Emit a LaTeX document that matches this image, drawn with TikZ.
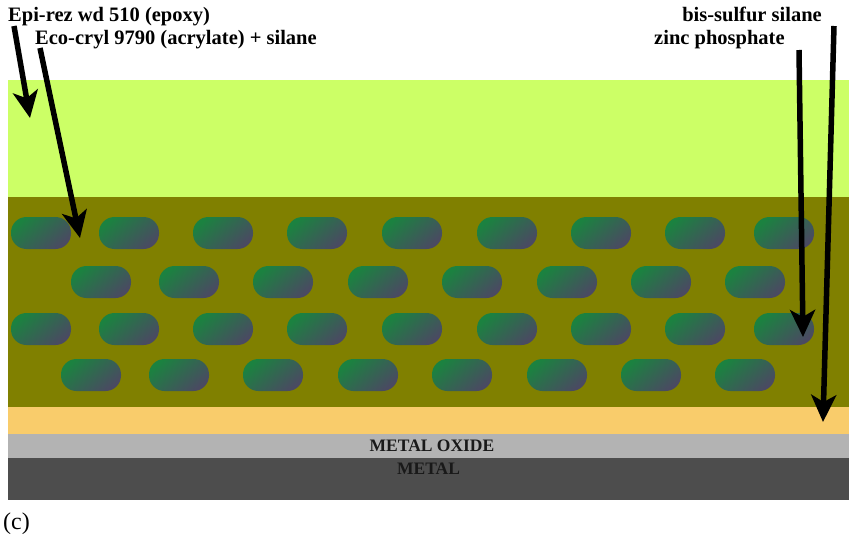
\documentclass[tikz,border=0pt]{standalone}
\usepackage{fontspec}
\setmainfont{Liberation Serif}
\usetikzlibrary{arrows.meta}
\definecolor{topcoat}{HTML}{CCFF66}
\definecolor{primer}{HTML}{808000}
\definecolor{conversion}{HTML}{F9CC6B}
\definecolor{oxide}{HTML}{B3B3B3}
\definecolor{metal}{HTML}{4D4D4D}
\definecolor{pillgreen}{HTML}{1B8240}
\definecolor{pillgray}{HTML}{4A4A62}
\tikzset {
layer/.style={draw=none},
pill/.style={top color=pillgreen,bottom color=pillgray,shading angle=40,rounded corners=15.5pt},
tag/.style={font=\fontsize{20.5}{22}\selectfont\bfseries,inner sep=0pt},
layertext/.style={font=\fontsize{17.5}{19}\selectfont\bfseries,text=black!90,inner sep=0pt},
pointer/.style={line width=5.5pt,-{Stealth[length=27pt,width=25pt,inset=7pt]}}
}

\begin{document}
\begin{tikzpicture}
[x=1pt,y=-1pt]
\useasboundingbox (0,0) rectangle (855,538);
% coating stack
\fill[layer,topcoat] (8,80) rectangle (849,197);
\fill[layer,primer] (8,197) rectangle (849,407);
\fill[layer,conversion] (8,407) rectangle (849,434);
\fill[layer,oxide] (8,434) rectangle (849,458);
\fill[layer,metal] (8,458) rectangle (849,500);

% pigment particles
\foreach \x in {11,99,193,287,382,477,571,665,754} {
  \shade[pill] (\x,217) rectangle ++(60,32);
  \shade[pill] (\x,313) rectangle ++(60,32);
}
\foreach \x in {71,159,253,348,442,537,631,725}
  \shade[pill] (\x,266) rectangle ++(60,32);
\foreach \x in {61,149,243,338,432,527,621,715}
  \shade[pill] (\x,359) rectangle ++(60,32);

\node[layertext,anchor=base] (oxide text) at (432,451) {METAL OXIDE};
\node[layertext,anchor=base] (metal text) at (428.5,474) {METAL};
\node[anchor=base west,inner sep=0pt,font=\fontsize{24}{26}\selectfont] (panel) at (3,529) {(c)};

\node[tag,anchor=base west] (epoxy) at (8,21) {Epi-rez wd 510 (epoxy)};
\node[tag,anchor=base west] (acrylate) at (35,45) {Eco-cryl 9790 (acrylate) + silane};
\node[tag,anchor=base east] (silane) at (822,21) {bis-sulfur silane};
\node[tag,anchor=base west] (phosphate) at (654,45) {zinc phosphate};

\coordinate (epoxy start) at (14,26);
\coordinate (epoxy tip) at (30,118);
\coordinate (acrylate start) at (40,48);
\coordinate (acrylate tip) at (80,238);
\coordinate (phosphate start) at (799,50);
\coordinate (phosphate tip) at (803,337);
\coordinate (silane start) at (834,26);
\coordinate (silane tip) at (823,422);

\draw[pointer] (epoxy start) -- (epoxy tip);
\draw[pointer] (acrylate start) -- (acrylate tip);
\draw[pointer] (phosphate start) -- (phosphate tip);
\draw[pointer] (silane start) -- (silane tip);
\end{tikzpicture}
\end{document}
